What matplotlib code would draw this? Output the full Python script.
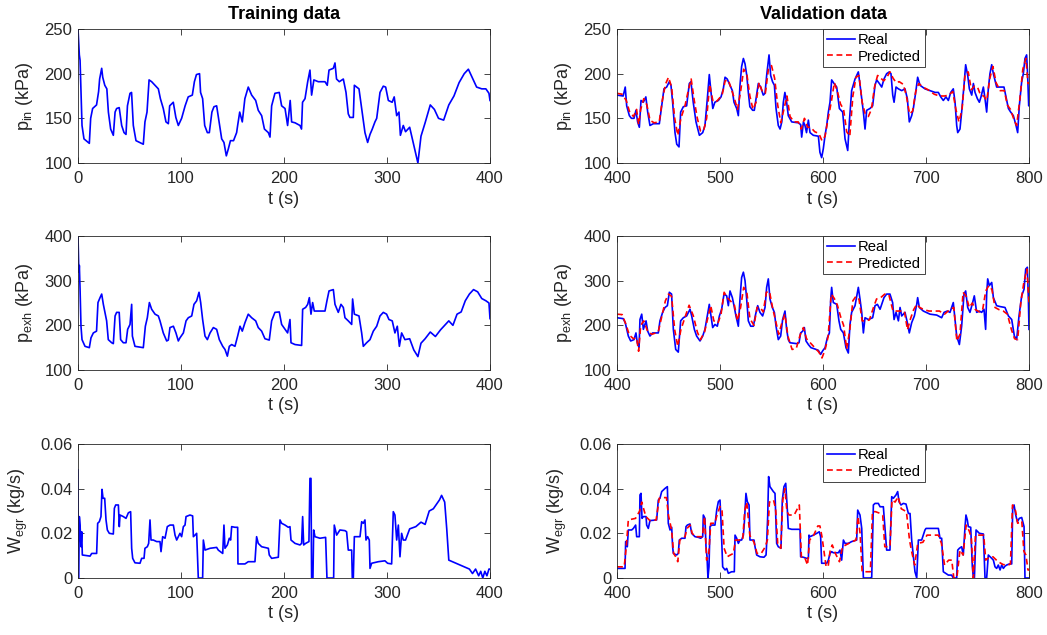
import matplotlib
matplotlib.use("Agg")
import matplotlib.pyplot as plt

plt.rcParams['font.family'] = ['Liberation Sans', 'DejaVu Sans']

# ---------------- training data (t = 0..400 s) ----------------
t_train_pin = [0, 1.3, 2, 3.9, 5.8, 11, 12.3, 14.2, 18, 20,
               21, 23, 24, 26, 28, 29.5, 31.7, 34.3, 36, 37.5,
               40, 42.4, 44.7, 46.6, 48, 50.5, 52, 53.7, 56.3, 63.4,
               65, 67, 69, 71.5, 74.8, 78, 80, 82.8, 85.4, 87.7,
               89, 92.5, 95, 97.4, 100.6, 104, 107, 111, 113, 115,
               118, 119, 121, 123, 125.6, 127.5, 130, 132, 134.6, 137,
               139.5, 141.7, 144, 146, 148, 151, 154, 155, 157, 159.5,
               162, 165.3, 168.6, 172.5, 175, 178.3, 181, 184.8, 186.4, 188,
               191.2, 195.4, 197.7, 201, 203.5, 206, 207.4, 210.7, 215.5, 217,
               218, 220.4, 223, 225.2, 226.8, 229, 233.3, 239.8, 242, 243.7,
               247.9, 249.5, 251, 253.7, 257.6, 260.2, 262.4, 264, 267.3, 268.3,
               272.8, 275.4, 278.6, 281.2, 283.5, 285.7, 288.3, 290, 293.2, 296.4,
               298.7, 301.3, 305, 307, 309.4, 311.6, 313, 315.8, 318, 322,
               326, 330, 333, 337, 342, 346, 350, 355, 360, 365,
               370, 375, 379, 383, 387, 392, 396, 399, 400]
pin_train = [250, 221, 215, 142, 127, 122, 150, 161, 165, 180,
             194, 206, 196, 187, 183, 157, 138, 131, 157, 161,
             162, 142, 134, 132, 164, 178, 179, 142, 125, 121,
             146, 157, 193, 191, 187, 183, 172, 161, 146, 144,
             164, 168, 151, 142, 150, 164, 174, 176, 191, 199,
             200, 179, 172, 142, 134, 134, 157, 163, 164, 146,
             127, 123, 108, 116, 125, 125, 134, 142, 157, 146,
             172, 185, 176, 170, 159, 153, 138, 134, 129, 164,
             178, 179, 164, 161, 142, 170, 146, 145, 142, 138,
             168, 172, 191, 204, 176, 193, 191, 191, 187, 204,
             206, 212, 194, 191, 194, 179, 155, 151, 151, 187,
             183, 161, 134, 123, 132, 138, 146, 150, 179, 186,
             185, 170, 168, 174, 153, 157, 131, 142, 135, 140,
             120, 100, 130, 145, 165, 160, 150, 148, 165, 175,
             190, 200, 205, 195, 185, 183, 183, 178, 170]

t_train_pexh = [0, 0.6, 1, 1.3, 2, 2.9, 3.9, 6.8, 11, 12.6,
                14.9, 18, 19.4, 21.4, 23, 24.6, 26.2, 27.8, 29.4, 32.7,
                34.3, 36, 37.5, 40, 41.4, 44, 46.6, 48.2, 50.5, 52.1,
                52.8, 55.3, 63.4, 65.4, 67.3, 69.3, 71.5, 74.8, 78, 79.6,
                82.8, 86.1, 87.7, 89.3, 92.6, 95.1, 97.4, 99, 102.3, 104.9,
                107.1, 110.4, 112.6, 115.2, 117.5, 119.1, 121, 123.3, 125.6, 128.2,
                131.4, 134.6, 137.2, 140.5, 142.7, 145, 146.9, 149.2, 152.4, 155,
                157.3, 159.5, 162.1, 165.3, 168.6, 172.5, 175, 178.3, 181.5, 185.7,
                188, 191.2, 195.4, 197.7, 201, 203.5, 205.8, 206.8, 210.7, 217.1,
                218.1, 221, 223, 224.6, 226.2, 227.8, 229.4, 233.3, 239.8, 241.7,
                243.7, 247.9, 249.5, 252.7, 255.3, 257.6, 259.2, 262.4, 265.7, 266.6,
                268.3, 272.8, 275.4, 277, 280.2, 283.5, 286.7, 290, 293.2, 296.4,
                299.6, 301.9, 305.1, 307.7, 310, 312, 314.2, 317.4, 322, 326,
                330, 333, 337, 342, 347, 352, 356, 360, 364, 368,
                372, 376, 380, 384, 388, 392, 396, 399, 400]
pexh_train = [400, 341, 319, 334, 281, 198, 168, 153, 150, 172,
              183, 187, 251, 262, 270, 247, 229, 210, 168, 161,
              159, 221, 229, 229, 168, 161, 161, 191, 202, 247,
              176, 153, 150, 198, 217, 251, 236, 225, 221, 210,
              183, 165, 167, 195, 198, 183, 165, 172, 183, 210,
              217, 221, 247, 255, 274, 251, 213, 176, 168, 183,
              195, 191, 168, 153, 146, 131, 153, 157, 153, 176,
              198, 187, 206, 225, 217, 210, 195, 187, 170, 167,
              210, 229, 230, 202, 191, 183, 213, 161, 157, 155,
              236, 240, 247, 262, 225, 251, 232, 232, 232, 255,
              277, 280, 247, 229, 247, 240, 217, 210, 202, 259,
              225, 221, 183, 153, 161, 168, 187, 198, 221, 229,
              225, 213, 210, 183, 198, 153, 183, 168, 170, 145,
              130, 160, 170, 185, 175, 190, 200, 210, 200, 225,
              230, 255, 270, 280, 275, 260, 255, 250, 215]

t_train_wegr = [0, 0.3, 0.6, 1.3, 2, 2.9, 3.6, 4.2, 11.7, 13.3,
                18.1, 19.1, 20.7, 22.3, 23.3, 24.3, 25.9, 27.2, 28.5, 30.4,
                34.3, 35.3, 36.6, 39.2, 40.1, 40.8, 44, 46.6, 48.9, 51.1,
                52.1, 53.1, 55.3, 60.2, 61.8, 64.1, 65, 67.3, 68.6, 69.9,
                70.9, 73.1, 76.4, 79.6, 80.6, 82.2, 84.5, 86.7, 89.3, 92.6,
                94.2, 95.8, 97.4, 99, 100.6, 102.3, 103.9, 104.9, 108.7, 111.3,
                112, 113.6, 115.2, 116.8, 121, 121.7, 123.3, 128.2, 134.6, 136.2,
                140.5, 141.7, 142.7, 145, 146.9, 148.2, 149.2, 152.4, 155, 155.3,
                162.1, 165.3, 171.8, 173.4, 175, 178.3, 184.8, 185.7, 188, 194.5,
                196.1, 197.7, 201, 204.2, 205.8, 206.8, 210.7, 215.5, 217.1, 218.1,
                219.1, 221, 224.2, 225.2, 226.2, 226.8, 228.1, 228.8, 230.1, 234.9,
                240.4, 241.7, 248.2, 248.8, 251.1, 254.3, 259.2, 260.8, 262.4, 265.7,
                266.3, 267.3, 268.3, 273.8, 275.4, 277, 278.6, 279.6, 281.2, 282.8,
                283.5, 285.1, 291.6, 298, 300.6, 304.5, 306.1, 307.7, 309.4, 311,
                312.6, 314.2, 315.8, 318, 322, 328, 333, 337, 341, 345,
                348, 351, 353, 356, 358, 360, 365, 370, 375, 380,
                383, 386, 389, 391, 393, 395, 397, 399, 400]
wegr_train = [0.0484, 0, 0, 0.0275, 0.0237, 0.014, 0.0207, 0.0103, 0.0098, 0.011,
              0.011, 0.0245, 0.0252, 0.0275, 0.0397, 0.0357, 0.0357, 0.026, 0.0215, 0.020,
              0.0197, 0.0312, 0.0327, 0.0327, 0.023, 0.0282, 0.0275, 0.0267, 0.0292, 0.0297,
              0.0133, 0.0088, 0.0068, 0.0066, 0.0088, 0.0088, 0.0133, 0.014, 0.0155, 0.026,
              0.017, 0.017, 0.0163, 0.0163, 0.0118, 0.0185, 0.0178, 0.023, 0.0237, 0.0237,
              0.0192, 0.017, 0.0185, 0.020, 0.0185, 0.023, 0.0237, 0.0275, 0.0282, 0.0278,
              0.0185, 0.0192, 0.020, 0, 0, 0.017, 0.0125, 0.0133, 0.0137, 0.0125,
              0.011, 0.0237, 0.0133, 0.0148, 0.0178, 0.017, 0.023, 0.0227, 0.0227, 0.0063,
              0.0063, 0.0073, 0.0073, 0.0185, 0.0155, 0.014, 0.0133, 0.0103, 0.0088, 0.0093,
              0.026, 0.0245, 0.0237, 0.0227, 0.023, 0.017, 0.0155, 0.0148, 0.0155, 0.0275,
              0.0148, 0.0155, 0.0163, 0.0446, 0.0446, 0, 0, 0.0215, 0.0185, 0.0178,
              0.0182, 0, 0, 0.0237, 0.0192, 0.0215, 0.0212, 0.0207, 0.0125, 0.0125,
              0, 0, 0.0185, 0.0185, 0.0252, 0.0245, 0.026, 0.017, 0.0185, 0.017,
              0.0043, 0.0066, 0.0073, 0.0077, 0.0066, 0.0063, 0.0297, 0.0282, 0.017, 0.0237,
              0.0095, 0.020, 0.017, 0.017, 0.022, 0.023, 0.025, 0.024, 0.030, 0.031,
              0.033, 0.035, 0.037, 0.034, 0.022, 0.008, 0.007, 0.006, 0.005, 0.004,
              0.002, 0.004, 0.001, 0.003, 0.0, 0.003, 0.001, 0.004, 0.004]

# ---------------- validation data (t = 400..800 s) ----------------
t_val_pin = [400, 406, 408, 409.4, 412, 414, 416.5, 418.4, 420, 421.7,
             423.3, 425.6, 428, 429.8, 432, 435.3, 441.1, 443.4, 445.6, 448.2,
             450.8, 452.4, 454, 456.3, 458, 460.2, 461.8, 464.4, 467.6, 470.2,
             471.8, 474, 476.7, 480, 483.2, 485.4, 487.7, 489.6, 491.3, 493,
             495, 498.4, 501, 503.2, 504.9, 507, 509.7, 512, 513.6, 516.2,
             517.8, 519.4, 521, 522.7, 524.3, 526, 527.5, 529, 531.7, 533.3,
             535, 537.2, 539.5, 542, 543.7, 545.3, 547.6, 549.2, 551, 552.8,
             554.4, 556.6, 558.3, 560, 561.5, 563, 564.7, 566.3, 569.6, 576,
             578.3, 579.3, 581, 582.5, 584, 585.8, 587.4, 590.6, 595.5, 597,
             598.7, 600.3, 602, 603.6, 605.2, 606.8, 608.4, 610.7, 613.3, 615.9,
             619.1, 621.4, 624, 625.6, 627.8, 631.1, 634.3, 636, 639.2, 640.8,
             642.4, 645.6, 648.2, 650.5, 652.1, 654.7, 657, 659.2, 661.8, 664.4,
             666, 667.7, 669, 670.9, 673.2, 676.4, 679.6, 681.9, 683.8, 686.1,
             687.7, 690, 691.9, 694.2, 699, 703.9, 708.8, 712, 714.3, 716.8,
             719.4, 721.7, 724, 726.5, 728.2, 729.8, 730.8, 733, 734.6, 736.9,
             738.5, 740.5, 742.1, 744.4, 746, 747.6, 749.9, 751.8, 753.4, 755.7,
             757.3, 758.9, 760.5, 762.1, 763.8, 765.4, 768.6, 771.9, 775.7, 777.7,
             780, 782.2, 784.8, 787.4, 789, 790.6, 792.9, 794.5, 796.1, 797.7,
             798.7, 799.7, 800]
pin_val = [176, 175, 185, 164, 153, 150, 150, 159, 146, 140,
           170, 168, 174, 157, 142, 144, 144, 164, 183, 185,
           191, 187, 168, 134, 121, 118, 157, 163, 164, 189,
           191, 168, 146, 131, 134, 142, 172, 199, 179, 161,
           168, 170, 174, 183, 196, 194, 187, 181, 168, 161,
           153, 187, 208, 217, 211, 198, 179, 163, 159, 159,
           172, 189, 185, 176, 178, 198, 221, 198, 191, 187,
           161, 142, 138, 146, 168, 179, 168, 153, 146, 145,
           143, 129, 146, 142, 134, 148, 134, 131, 130, 112,
           106, 116, 131, 142, 157, 168, 193, 189, 185, 161,
           157, 127, 114, 146, 181, 194, 202, 187, 157, 138,
           159, 161, 164, 187, 193, 189, 185, 194, 200, 202,
           200, 176, 168, 185, 183, 181, 183, 172, 146, 153,
           161, 179, 196, 187, 183, 181, 179, 179, 174, 170,
           174, 170, 179, 183, 168, 142, 134, 138, 157, 187,
           210, 198, 183, 176, 189, 179, 172, 168, 174, 185,
           172, 157, 183, 200, 210, 200, 185, 185, 185, 174,
           161, 157, 153, 142, 134, 164, 191, 200, 217, 221,
           198, 164, 165]

t_val_pin_pred = [400, 405, 409, 412, 416, 419, 421, 423, 426, 429,
                  432, 436, 441, 444, 447, 450, 453, 456, 459, 462,
                  466, 469, 472, 475, 478, 481, 484, 487, 490, 493,
                  496, 499, 502, 505, 508, 511, 514, 517, 520, 523,
                  526, 529, 532, 535, 538, 541, 544, 547, 550, 553,
                  556, 559, 562, 565, 568, 572, 576, 579, 582, 585,
                  588, 592, 596, 599, 602, 605, 608, 611, 614, 617,
                  620, 623, 626, 629, 632, 635, 638, 641, 644, 647,
                  650, 653, 656, 659, 662, 665, 668, 671, 674, 678,
                  681, 684, 687, 690, 693, 697, 702, 708, 713, 718,
                  722, 726, 729, 732, 735, 738, 741, 744, 747, 750,
                  753, 756, 759, 762, 765, 768, 772, 776, 779, 782,
                  785, 788, 791, 794, 797, 799, 800]
pin_val_pred = [178, 177, 170, 158, 152, 160, 143, 160, 172, 165,
                148, 145, 146, 170, 188, 196, 185, 150, 131, 150,
                164, 180, 194, 170, 150, 136, 136, 150, 188, 170,
                168, 172, 176, 192, 193, 183, 172, 160, 180, 205,
                200, 175, 160, 168, 190, 180, 178, 205, 209, 195,
                165, 145, 160, 175, 152, 146, 146, 138, 150, 140,
                140, 135, 133, 125, 130, 150, 168, 190, 180, 166,
                160, 135, 130, 175, 196, 198, 168, 155, 152, 160,
                185, 198, 195, 192, 196, 202, 195, 190, 191, 188,
                175, 155, 158, 180, 189, 185, 182, 177, 175, 175,
                176, 180, 160, 146, 160, 200, 202, 182, 186, 185,
                176, 175, 170, 195, 208, 190, 181, 181, 165, 160,
                150, 142, 170, 205, 217, 189, 189]

t_val_pexh = [400, 406, 408, 411, 413.3, 416.5, 418.4, 419.7, 421.4, 422.3,
              424, 425.6, 428.2, 429.8, 432, 434.6, 440.1, 441.7, 444.3, 446.6,
              448.9, 450.8, 453, 454.7, 457, 459.5, 461.8, 464.4, 467.6, 470.9,
              472.5, 475.1, 477.3, 480.6, 483.2, 485.4, 487.7, 489.6, 491.3, 492.9,
              495.1, 497.4, 499.4, 501.6, 503.9, 506.5, 508.1, 509.7, 512, 513.6,
              515.5, 517.8, 519.4, 521, 522.7, 524.3, 525.9, 527.5, 529.8, 532.4,
              534.6, 536.6, 538.8, 541.4, 543.7, 545.3, 546.9, 548.5, 550.8, 552.8,
              554.4, 556.6, 558.9, 560.8, 563.1, 564.7, 566.3, 567.9, 574.4, 576.7,
              578.3, 580.3, 581.9, 583.5, 585.8, 588.3, 592.2, 595.5, 597.7, 599.7,
              602, 604.2, 606.2, 607.5, 608.4, 610, 613.3, 615.5, 617.2, 619.8,
              622.3, 624.6, 626.2, 627.8, 631.1, 634.3, 635.9, 637.6, 639.2, 640.8,
              644, 648.2, 650.5, 652.8, 655.4, 659.2, 661.8, 665, 667.6, 669,
              670.9, 673.2, 674.8, 676.4, 679.6, 681.9, 683.8, 686.1, 688.7, 691,
              691.9, 693.5, 697.4, 703.9, 710.4, 712, 715.2, 717.5, 720.7, 723.3,
              726.5, 728.2, 729.8, 732.4, 734.6, 736.9, 738.5, 740.5, 742.7, 745.3,
              746.9, 749.2, 751.8, 754, 756.3, 757.9, 758.9, 759.9, 761.5, 763.8,
              765.4, 768.6, 771.9, 776.7, 780, 783.2, 785.8, 788, 790.3, 792.9,
              795.2, 796.8, 798.4, 799.4, 800]
pexh_val = [217, 215, 206, 176, 165, 168, 183, 161, 150, 213,
            225, 191, 210, 187, 176, 183, 183, 210, 229, 240,
            244, 274, 270, 191, 146, 140, 210, 217, 221, 236,
            221, 191, 176, 165, 176, 191, 221, 247, 221, 195,
            202, 198, 221, 236, 270, 266, 244, 277, 262, 244,
            221, 198, 259, 307, 319, 300, 259, 210, 198, 198,
            225, 244, 229, 221, 240, 285, 304, 259, 240, 229,
            198, 168, 176, 213, 232, 191, 168, 161, 159, 161,
            183, 187, 195, 165, 157, 150, 147, 144, 135, 143,
            150, 172, 183, 259, 285, 251, 247, 210, 191, 183,
            150, 138, 202, 229, 244, 285, 259, 229, 183, 217,
            213, 217, 244, 247, 236, 262, 270, 270, 251, 213,
            229, 210, 240, 221, 229, 206, 183, 206, 221, 247,
            262, 240, 232, 225, 223, 221, 217, 229, 232, 229,
            251, 213, 176, 157, 198, 270, 277, 240, 229, 251,
            266, 229, 232, 229, 236, 191, 270, 304, 289, 296,
            262, 244, 242, 240, 221, 213, 176, 168, 221, 266,
            281, 326, 330, 259, 191]

t_val_pexh_pred = [400, 405, 409, 412, 416, 419, 421, 423, 426, 430,
                   434, 440, 444, 447, 450, 453, 456, 459, 462, 466,
                   470, 474, 478, 481, 485, 488, 491, 494, 498, 501,
                   504, 507, 510, 514, 517, 520, 523, 526, 529, 533,
                   536, 539, 542, 545, 548, 551, 554, 557, 560, 563,
                   566, 570, 574, 578, 581, 584, 588, 592, 596, 599,
                   602, 605, 608, 611, 614, 617, 620, 623, 626, 629,
                   632, 635, 638, 641, 645, 649, 652, 656, 660, 664,
                   668, 671, 675, 679, 682, 685, 688, 691, 694, 698,
                   703, 708, 713, 718, 723, 727, 730, 733, 736, 739,
                   742, 745, 748, 752, 755, 758, 761, 764, 767, 771,
                   775, 779, 783, 786, 789, 792, 795, 798, 800]
pexh_val_pred = [225, 224, 200, 178, 170, 172, 142, 200, 210, 185,
                 180, 185, 225, 255, 270, 265, 190, 153, 190, 218,
                 245, 222, 185, 168, 185, 215, 244, 210, 205, 225,
                 274, 262, 255, 245, 210, 240, 285, 275, 215, 200,
                 240, 240, 230, 274, 276, 240, 210, 180, 205, 225,
                 175, 146, 148, 180, 195, 170, 160, 150, 140, 127,
                 145, 175, 270, 260, 245, 220, 200, 147, 190, 255,
                 265, 258, 210, 210, 212, 240, 259, 262, 270, 268,
                 232, 232, 232, 232, 190, 215, 235, 247, 240, 235,
                 232, 232, 232, 225, 235, 240, 165, 180, 274, 265,
                 240, 250, 235, 230, 235, 277, 289, 280, 240, 235,
                 232, 225, 190, 170, 168, 250, 296, 326, 250]

t_val_wegr = [400, 407.8, 408.4, 410, 411, 414.2, 415.9, 418.1, 419.1, 421.7,
              422.3, 423.3, 424.3, 425.6, 428.2, 428.8, 430.4, 432, 438.5, 440.1,
              441.7, 443.4, 446.6, 448.9, 449.8, 451.5, 453.1, 454, 454.7, 457.9,
              459.5, 460.5, 462.8, 466, 467, 468.3, 470.9, 472.5, 475.7, 479,
              481.2, 483.2, 483.8, 485.4, 486.4, 487.4, 488.3, 489.3, 490.3, 491.9,
              495.1, 496.8, 498.4, 500, 501, 502.6, 504.9, 506.5, 508.1, 511.3,
              513.9, 514.6, 516.2, 517.8, 519.4, 521, 522.7, 523.6, 525.2, 526.5,
              528.2, 529.1, 533, 534, 535.6, 538.8, 542.7, 544.7, 545.3, 546.3,
              547.2, 548.5, 551.8, 553.4, 555, 556.6, 559.2, 560.5, 562.1, 563.8,
              565.4, 566.3, 569.6, 577.7, 578.3, 580.9, 584.1, 585.8, 586.4, 587.4,
              590.6, 593.9, 596.4, 597.7, 598.7, 603.6, 605.2, 606.8, 608.4, 610,
              614.9, 616.5, 618.1, 619.8, 621.4, 624.6, 627.8, 632.7, 633.7, 635.9,
              637.6, 639.2, 645.6, 647.3, 648.9, 650.5, 653.7, 655.4, 658.6, 661.8,
              665, 666.7, 668.3, 670.9, 672.5, 673.8, 675.7, 678, 680.6, 682.9,
              684.5, 686.1, 689.3, 691, 692.6, 695.8, 699, 700, 712, 713.6,
              715.2, 716.8, 721.7, 724.9, 726.5, 729.8, 730.8, 732.4, 734.6, 736.2,
              737.9, 738.8, 740.1, 741.1, 743.4, 745, 746, 747, 748.6, 751.8,
              755.7, 757.3, 758.9, 760.5, 763.8, 765.4, 767, 768.6, 770.2, 771.9,
              773.5, 775.1, 776.7, 778.3, 780.9, 783.2, 784.2, 785.5, 787.1, 788.7,
              790.6, 792.9, 795.2, 796.1, 800]
wegr_val = [0.0043, 0.0043, 0.0163, 0.014, 0.0215, 0.0215, 0.0222, 0.0237, 0.0185, 0.0185,
            0.0372, 0.0379, 0.0267, 0.0275, 0.0275, 0.0237, 0.0222, 0.0257, 0.026, 0.0349,
            0.0357, 0.0387, 0.0401, 0.0409, 0.0245, 0.0215, 0.0227, 0.014, 0.011, 0.0103,
            0.011, 0.017, 0.0178, 0.0178, 0.023, 0.0237, 0.0242, 0.020, 0.0185, 0.0182,
            0.0178, 0.0185, 0.0282, 0.0267, 0.014, 0.0095, 0, 0.005, 0.023, 0.0237,
            0.0237, 0.0304, 0.0342, 0.0349, 0.0252, 0.005, 0.0036, 0.0043, 0.0021, 0.0028,
            0.0028, 0.0192, 0.0178, 0.0155, 0.017, 0.017, 0.0192, 0.0245, 0.0379, 0.0342,
            0.0327, 0.017, 0.017, 0.014, 0.0103, 0.0095, 0.0093, 0.0103, 0.0155, 0.0275,
            0.0454, 0.0409, 0.0387, 0.0379, 0.0155, 0.014, 0.0133, 0.0349, 0.0409, 0.0424,
            0.0304, 0.0222, 0.0218, 0.0218, 0.0095, 0.0093, 0.0088, 0.0088, 0.0192, 0.0185,
            0.0192, 0.020, 0.0207, 0.0185, 0.0066, 0.0066, 0.008, 0.011, 0.0118, 0.0113,
            0.0113, 0.0125, 0.008, 0.017, 0.0155, 0.0155, 0.0163, 0.017, 0.0304, 0.0282,
            0.0222, 0, 0, 0.0003, 0.0327, 0.0334, 0.0334, 0.0319, 0.0319, 0.0125,
            0.0125, 0.0364, 0.0357, 0.0372, 0.0387, 0.0342, 0.0327, 0.0334, 0.0331, 0.0289,
            0.0289, 0.017, 0.0028, 0, 0.017, 0.017, 0.0215, 0.0222, 0.0222, 0.0178,
            0.0178, 0.0028, 0.0013, 0.0013, 0, 0, 0.0125, 0.0133, 0.014, 0.0103,
            0.023, 0.0282, 0.026, 0.023, 0.0227, 0.005, 0, 0, 0.0215, 0.020,
            0.0197, 0, 0, 0.0103, 0.0088, 0.008, 0.005, 0.0043, 0.0058, 0.0036,
            0.0058, 0.0043, 0.0053, 0.0058, 0.0063, 0.0063, 0.0319, 0.0327, 0.0282, 0.0252,
            0.0267, 0.0271, 0.023, 0, 0]

t_val_wegr_pred = [400, 407, 409, 411, 418, 422, 424, 428, 432, 438,
                   441, 444, 448, 450, 453, 455, 457, 459, 461, 466,
                   468, 471, 473, 476, 483, 485, 487, 489, 491, 495,
                   497, 500, 502, 504, 507, 510, 513, 515, 522, 524,
                   526, 529, 533, 536, 540, 544, 546, 548, 552, 554,
                   556, 559, 561, 563, 565, 567, 572, 577, 579, 582,
                   585, 587, 591, 595, 597, 599, 603, 605, 607, 609,
                   612, 616, 619, 625, 632, 634, 636, 638, 640, 646,
                   648, 651, 655, 658, 660, 665, 667, 670, 673, 676,
                   681, 684, 686, 689, 692, 697, 701, 712, 715, 718,
                   722, 725, 727, 730, 733, 736, 739, 742, 744, 746,
                   748, 752, 756, 758, 760, 765, 770, 775, 780, 782,
                   784, 787, 789, 793, 795, 797, 799, 800]
wegr_val_pred = [0.005, 0.005, 0.014, 0.026, 0.0267, 0.030, 0.034, 0.0275, 0.0257, 0.026,
                 0.0357, 0.036, 0.036, 0.028, 0.0215, 0.011, 0.0095, 0.0073, 0.017, 0.0185,
                 0.0222, 0.0237, 0.020, 0.0185, 0.0185, 0.0275, 0.008, 0.010, 0.0245, 0.0245,
                 0.028, 0.032, 0.030, 0.0133, 0.0095, 0.0103, 0.011, 0.017, 0.017, 0.030,
                 0.034, 0.019, 0.016, 0.011, 0.011, 0.014, 0.017, 0.034, 0.0349, 0.031,
                 0.0155, 0.0133, 0.035, 0.040, 0.0297, 0.0282, 0.0282, 0.0327, 0.0095, 0.0095,
                 0.0058, 0.017, 0.0192, 0.0233, 0.0233, 0.0185, 0.0051, 0.0051, 0.0125, 0.0148,
                 0.011, 0.0073, 0.014, 0.0155, 0.017, 0.0275, 0.020, 0.0028, 0.0028, 0.0028,
                 0.0297, 0.0297, 0.029, 0.028, 0.014, 0.014, 0.0349, 0.034, 0.0364, 0.031,
                 0.0297, 0.017, 0.012, 0.0058, 0.0155, 0.016, 0.0192, 0.0192, 0.0155, 0.0058,
                 0.008, 0.008, 0, 0.0003, 0.0125, 0.0103, 0.0237, 0.021, 0.018, 0,
                 0.0192, 0.0192, 0.0192, 0.008, 0.0088, 0.0095, 0.0073, 0.006, 0.0058, 0.0063,
                 0.0327, 0.030, 0.0245, 0.0255, 0.012, 0.0103, 0.0036, 0.0036]

ylabels = [r'$\mathregular{p_{in}}$ (kPa)', r'$\mathregular{p_{exh}}$ (kPa)',
           r'$\mathregular{W_{egr}}$ (kg/s)']
ylims = [(100, 250), (100, 400), (0, 0.06)]
yticks = [[100, 150, 200, 250], [100, 200, 300, 400], [0, 0.02, 0.04, 0.06]]
ytick_labels = [['100', '150', '200', '250'], ['100', '200', '300', '400'],
                ['0', '0.02', '0.04', '0.06']]

train_series = [(t_train_pin, pin_train), (t_train_pexh, pexh_train),
                (t_train_wegr, wegr_train)]
val_series = [(t_val_pin, pin_val, t_val_pin_pred, pin_val_pred),
              (t_val_pexh, pexh_val, t_val_pexh_pred, pexh_val_pred),
              (t_val_wegr, wegr_val, t_val_wegr_pred, wegr_val_pred)]

fig = plt.figure(figsize=(10.47, 6.35), dpi=100)

W, H = 1047.0, 635.0
col_left = [78, 617]
col_width = 412
row_top = [29, 236, 444]
row_height = 134

dark = (0.15, 0.15, 0.15)


def style_axes(ax, row):
    ax.set_ylim(*ylims[row])
    ax.set_yticks(yticks[row], ytick_labels[row])
    ax.tick_params(direction='in', top=True, right=True, length=4, width=0.6,
                   labelsize=12, colors=dark)
    ax.tick_params(axis='x', pad=6)
    ax.tick_params(axis='y', pad=4)
    for s in ax.spines.values():
        s.set_linewidth(0.6)
        s.set_color(dark)
    ax.set_xlabel('t (s)', fontsize=13, color=dark, labelpad=3)
    ax.set_ylabel(ylabels[row], fontsize=13, color=dark, labelpad=7)


for row in range(3):
    bottom = 1 - (row_top[row] + row_height) / H
    # training column
    ax = fig.add_axes([col_left[0] / W, bottom, col_width / W, row_height / H])
    t, v = train_series[row]
    ax.plot(t, v, color='#0000ff', lw=1.2)
    ax.set_xlim(0, 400)
    ax.set_xticks([0, 100, 200, 300, 400])
    style_axes(ax, row)
    if row == 0:
        ax.set_title('Training data', fontsize=13, fontweight='bold', pad=7)

    # validation column
    ax = fig.add_axes([col_left[1] / W, bottom, col_width / W, row_height / H])
    t, v, tp, vp = val_series[row]
    ax.plot(t, v, color='#0000ff', lw=1.2, label='Real')
    ax.plot(tp, vp, color='#ff0000', lw=1.2, ls=(0, (3.5, 2.2)), label='Predicted')
    ax.set_xlim(400, 800)
    ax.set_xticks([400, 500, 600, 700, 800])
    style_axes(ax, row)
    if row == 0:
        ax.set_title('Validation data', fontsize=13, fontweight='bold', pad=7)
    leg = ax.legend(loc='upper left', bbox_to_anchor=(0.5, 1.0), fontsize=10.7,
                    frameon=True, fancybox=False, borderaxespad=0, borderpad=0.25,
                    labelspacing=0.2, handlelength=1.9, handletextpad=0.2)
    leg.get_frame().set_edgecolor(dark)
    leg.get_frame().set_linewidth(0.6)
    leg.get_frame().set_alpha(1)

fig.savefig('out.png', dpi=100)
